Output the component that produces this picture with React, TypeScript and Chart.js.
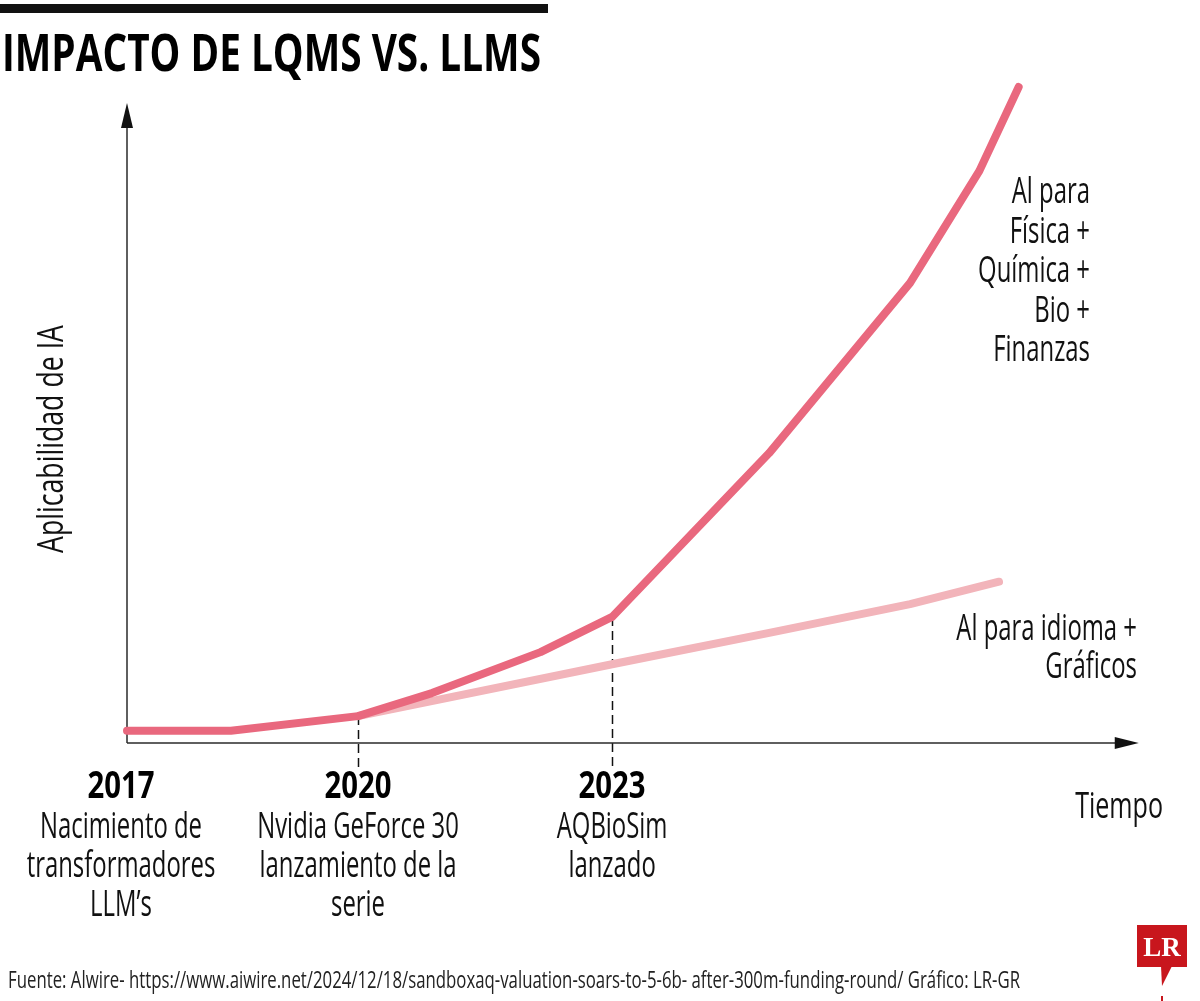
import React, { useEffect, useRef } from "react";
import { Chart, registerables } from "chart.js";

Chart.register(...registerables);

// ---- data (abstract time units on x, "aplicabilidad" units on y) ----
const milestoneYears = ["2017", "2020", "2023"];
const milestoneX = [0, 10, 21];
const milestoneNotes = [
  ["Nacimiento de", "transformadores", "LLM’s"],
  ["Nvidia GeForce 30", "lanzamiento de la", "serie"],
  ["AQBioSim", "lanzado"],
];
const lqmX = [0, 4.5, 10, 13.2, 17.9, 21, 27.8, 33.9, 36.9, 38.6];
const lqmY = [1.9, 1.9, 4.2, 7.8, 14.2, 19.7, 45.3, 71.9, 89.4, 102.5];
const llmX = [10, 21, 27.8, 33.9, 37.75];
const llmY = [4.2, 12.3, 17.2, 21.7, 25.2];
const lqmLabel = ["Al para", "Física +", "Química +", "Bio +", "Finanzas"];
const llmLabel = ["Al para idioma +", "Gráficos"];
const titleText = "IMPACTO DE LQMS VS. LLMS";
const yAxisTitle = "Aplicabilidad de IA";
const xAxisTitle = "Tiempo";
const sourceText =
  "Fuente: Alwire- https://www.aiwire.net/2024/12/18/sandboxaq-valuation-soars-to-5-6b- after-300m-funding-round/ Gráfico: LR-GR";

const MAIN = "#e9687e";
const LIGHT = "#f2b4ba";
const INK = "#111";

function fitK(ctx: CanvasRenderingContext2D, font: string, sample: string, target: number) {
  ctx.save();
  ctx.font = font;
  const w = ctx.measureText(sample).width;
  ctx.restore();
  return target / w;
}

function cond(
  ctx: CanvasRenderingContext2D,
  s: string,
  x: number,
  y: number,
  font: string,
  k: number,
  align: CanvasTextAlign,
  color = INK
) {
  ctx.save();
  ctx.font = font;
  ctx.fillStyle = color;
  ctx.textBaseline = "alphabetic";
  ctx.translate(x, y);
  ctx.scale(k, 1);
  ctx.textAlign = align;
  ctx.fillText(s, 0, 0);
  ctx.restore();
}

const decor = {
  id: "decor",
  beforeDatasetsDraw(chart: any) {
    const ctx: CanvasRenderingContext2D = chart.ctx;
    const xs = chart.scales.x;
    const ys = chart.scales.y;
    const x0 = xs.getPixelForValue(0);
    const y0 = ys.getPixelForValue(0);
    ctx.save();
    // dashed milestone lines
    ctx.strokeStyle = "#111";
    ctx.lineWidth = 1.5;
    ctx.setLineDash([9, 5]);
    milestoneX.forEach((mx, i) => {
      if (i === 0) return;
      const idx = lqmX.indexOf(mx);
      const top = ys.getPixelForValue(lqmY[idx]);
      const px = Math.round(xs.getPixelForValue(mx)) + 0.5;
      ctx.beginPath();
      ctx.moveTo(px, top);
      ctx.lineTo(px, y0 + 27);
      ctx.stroke();
    });
    ctx.setLineDash([]);
    // axes
    ctx.strokeStyle = "#2a2a2a";
    ctx.fillStyle = "#111";
    ctx.lineWidth = 1.5;
    const yTip = ys.getPixelForValue(100);
    ctx.beginPath();
    ctx.moveTo(x0, y0);
    ctx.lineTo(x0, yTip + 20);
    ctx.stroke();
    ctx.beginPath();
    ctx.moveTo(x0, yTip);
    ctx.lineTo(x0 - 6, yTip + 25);
    ctx.lineTo(x0 + 6, yTip + 25);
    ctx.closePath();
    ctx.fill();
    const xTip = xs.getPixelForValue(43.8);
    ctx.beginPath();
    ctx.moveTo(x0, y0);
    ctx.lineTo(xTip - 20, y0);
    ctx.stroke();
    ctx.beginPath();
    ctx.moveTo(xTip, y0);
    ctx.lineTo(xTip - 24, y0 - 6);
    ctx.lineTo(xTip - 24, y0 + 6);
    ctx.closePath();
    ctx.fill();
    ctx.restore();
  },
  afterDraw(chart: any) {
    const ctx: CanvasRenderingContext2D = chart.ctx;
    const xs = chart.scales.x;
    const ys = chart.scales.y;
    const y0 = ys.getPixelForValue(0);
    const body = '400 37px "Open Sans"';
    const bold = '700 37px "Open Sans"';
    const titleFont = '700 52px "Open Sans"';
    const srcFont = '400 23px "Open Sans"';
    const kBody = fitK(ctx, body, "Nacimiento de", 162);
    const kBold = fitK(ctx, bold, "2017", 67);
    const kTitle = fitK(ctx, titleFont, titleText, 539);
    const kSrc = fitK(ctx, srcFont, sourceText, 1012);
    const kY = fitK(ctx, body, yAxisTitle, 228);

    // top bar + title
    ctx.save();
    ctx.fillStyle = "#111";
    ctx.fillRect(0, 4, 548, 9);
    ctx.restore();
    cond(ctx, titleText, 2, 71, titleFont, kTitle, "left", "#000");

    // milestone labels
    milestoneX.forEach((mx, i) => {
      const px = xs.getPixelForValue(mx) + (i === 0 ? -6 : 0);
      cond(ctx, milestoneYears[i], px, y0 + 55, bold, kBold, "center", "#000");
      milestoneNotes[i].forEach((t, j) => {
        cond(ctx, t, px, y0 + 95 + j * 39, body, kBody, "center");
      });
    });

    // axis titles
    cond(ctx, xAxisTitle, 1163, 818, body, kBody * 1.05, "right");
    ctx.save();
    ctx.translate(63, 439);
    ctx.rotate(-Math.PI / 2);
    cond(ctx, yAxisTitle, 0, 0, body, kY, "center");
    ctx.restore();

    // series labels
    lqmLabel.forEach((t, j) => cond(ctx, t, 1090, 203 + j * 39.5, body, kBody, "right"));
    llmLabel.forEach((t, j) => cond(ctx, t, 1137, 640 + j * 38, body, kBody, "right"));

    // source
    cond(ctx, sourceText, 8, 988, srcFont, kSrc, "left", "#222");

    // LR logo
    ctx.save();
    ctx.fillStyle = "#c8161d";
    ctx.fillRect(1137, 925, 50, 42);
    ctx.beginPath();
    ctx.moveTo(1161, 966);
    ctx.lineTo(1172, 966);
    ctx.lineTo(1162, 986);
    ctx.closePath();
    ctx.fill();
    ctx.fillRect(1161, 996, 2, 5);
    ctx.fillStyle = "#fff";
    ctx.font = '700 27px "Liberation Serif"';
    ctx.textAlign = "center";
    ctx.textBaseline = "alphabetic";
    ctx.fillText("LR", 1162, 956);
    ctx.restore();
  },
};

export default function App() {
  const ref = useRef<HTMLCanvasElement | null>(null);
  useEffect(() => {
    if (!ref.current) return;
    const chart = new Chart(ref.current, {
      type: "line",
      data: {
        datasets: [
          {
            label: "LQMs",
            data: lqmX.map((x, i) => ({ x, y: lqmY[i] })),
            borderColor: MAIN,
            borderWidth: 8,
            pointRadius: 0,
            borderCapStyle: "round",
            borderJoinStyle: "round",
            tension: 0,
            clip: false as any,
          },
          {
            label: "LLMs",
            data: llmX.map((x, i) => ({ x, y: llmY[i] })),
            borderColor: LIGHT,
            borderWidth: 8,
            pointRadius: 0,
            borderCapStyle: "round",
            borderJoinStyle: "round",
            tension: 0,
            clip: false as any,
          },
        ],
      },
      options: {
        animation: false,
        responsive: false,
        devicePixelRatio: 1,
        layout: { padding: { left: 127, right: 56.6, top: 77.4, bottom: 258 } },
        plugins: { legend: { display: false }, tooltip: { enabled: false }, title: { display: false } },
        scales: {
          x: { type: "linear", min: 0, max: 44, display: false },
          y: { type: "linear", min: 0, max: 104, display: false },
        },
      },
      plugins: [decor],
    });
    return () => chart.destroy();
  }, []);
  return (
    <div style={{ position: "absolute", left: 0, top: 0, width: 1200, height: 1001, background: "#fff" }}>
      <canvas ref={ref} width={1200} height={1001} style={{ width: 1200, height: 1001, display: "block" }} />
    </div>
  );
}
